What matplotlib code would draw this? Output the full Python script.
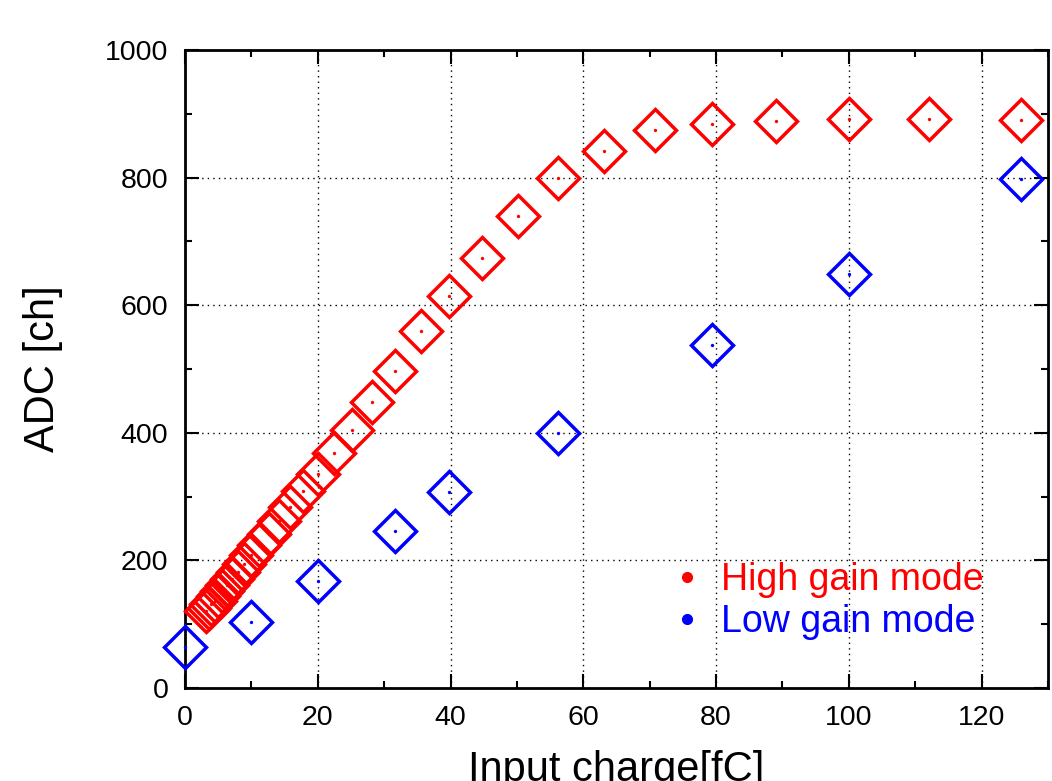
import matplotlib
matplotlib.use("Agg")
import matplotlib.pyplot as plt
from matplotlib.lines import Line2D
from matplotlib.ticker import MultipleLocator

plt.rcParams['font.family'] = ['Liberation Sans', 'DejaVu Sans']

# High gain mode data
high_x = [3.16, 3.55, 3.98, 4.47, 5.01, 5.62, 6.31, 7.08, 7.94, 8.91, 10.0, 11.2,
          12.6, 14.1, 15.8, 17.8, 20.0, 22.4, 25.1, 28.2, 31.6, 35.5, 39.8, 44.7,
          50.1, 56.2, 63.1, 70.8, 79.4, 89.1, 100.0, 112.0, 126.0]
high_y = [120, 125, 131, 137, 144, 152, 161, 171, 182, 194, 208, 224,
          242, 261, 283, 308, 336, 368, 404, 448, 497, 560, 614, 674,
          740, 799, 842, 875, 884, 889, 892, 892, 890]

# Low gain mode data
low_x = [0.0, 10.0, 20.0, 31.6, 39.8, 56.2, 79.4, 100.0, 126.0]
low_y = [64, 103, 168, 246, 307, 400, 538, 649, 798]

labels = ["High gain mode", "Low gain mode"]
colors = ["#ff0000", "#0000ff"]

fig = plt.figure(figsize=(10.52, 7.81), dpi=100)
ax = fig.add_axes([185/1052, 1-688/781, (1048-185)/1052, (688-50)/781])

for xs, ys, c in [(high_x, high_y, colors[0]), (low_x, low_y, colors[1])]:
    ax.plot(xs, ys, ls='none', marker='D', ms=21, mfc='none', mec=c, mew=2.5,
            clip_on=False, zorder=3)
    ax.plot(xs, ys, ls='none', marker='o', ms=2.4, color=c, mew=0,
            clip_on=False, zorder=4)

ax.set_xlim(0, 130)
ax.set_ylim(0, 1000)
ax.xaxis.set_major_locator(MultipleLocator(20))
ax.xaxis.set_minor_locator(MultipleLocator(10))
ax.yaxis.set_major_locator(MultipleLocator(200))
ax.yaxis.set_minor_locator(MultipleLocator(100))

ax.tick_params(which='both', direction='in', top=True, right=True, width=1.5,
               labelsize=20.5)
ax.tick_params(which='major', length=10, pad=12)
ax.tick_params(which='minor', length=5)
for s in ax.spines.values():
    s.set_linewidth(2)

ax.grid(True, which='major', color='black', linestyle=(0, (1, 3)), linewidth=1)
ax.set_axisbelow(True)

ax.set_xlabel("Input charge[fC]", fontsize=30, labelpad=14)
ax.set_ylabel("ADC [ch]", fontsize=30, labelpad=30)

handles = [Line2D([], [], ls='none', marker='o', ms=7, color=c) for c in colors]
ax.legend(handles, labels, loc='lower right', bbox_to_anchor=(0.925, 0.075),
          frameon=False, fontsize=27, labelcolor=colors, handlelength=0.9,
          handletextpad=0.45, labelspacing=0.17, borderpad=0, borderaxespad=0)

fig.savefig("out.png", dpi=100)
